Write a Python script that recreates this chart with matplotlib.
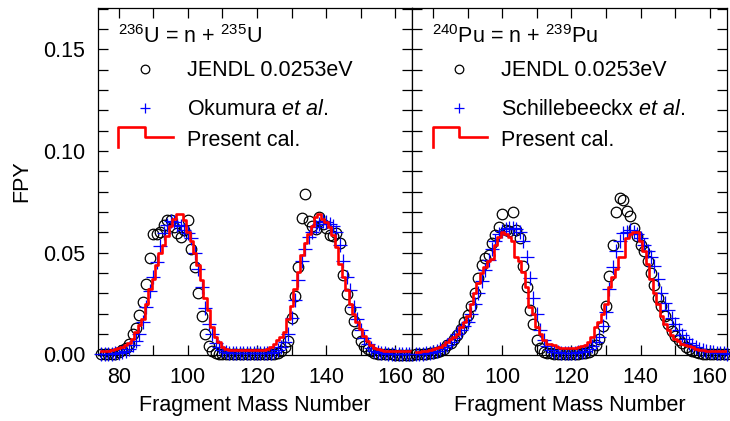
import matplotlib
matplotlib.use("Agg")
import matplotlib.pyplot as plt
from matplotlib.ticker import MultipleLocator, FormatStrFormatter

plt.rcParams['font.family'] = ['Liberation Sans', 'DejaVu Sans']
plt.rcParams['mathtext.fontset'] = 'custom'
plt.rcParams['mathtext.rm'] = 'Liberation Sans'
plt.rcParams['mathtext.it'] = 'Liberation Sans:italic'

# ---------------- data ----------------
mass = list(range(75, 166))

u235_jendl = [
    0.00001, 0.00003, 0.00008, 0.0002, 0.00045, 0.0013, 0.0020, 0.0033, 0.0054, 0.0100,   # 75-84
    0.0132, 0.0196, 0.0256, 0.0345, 0.0473, 0.0590, 0.0591, 0.0600, 0.0637, 0.0660,       # 85-94
    0.0660, 0.0628, 0.0599, 0.0578, 0.0611, 0.0660, 0.0518, 0.0429, 0.0303, 0.0188,       # 95-104
    0.0100, 0.0042, 0.0015, 0.00054, 0.00031, 0.00025, 0.00017, 0.00013, 0.00014, 0.00012, # 105-114
    0.00010, 0.00011, 0.00011, 0.00011, 0.00011, 0.00013, 0.00013, 0.00016, 0.00016, 0.00027, # 115-124
    0.00034, 0.00059, 0.0016, 0.0035, 0.0066, 0.0180, 0.0289, 0.0431, 0.0670, 0.0787,     # 125-134
    0.0654, 0.0631, 0.0619, 0.0677, 0.0641, 0.0622, 0.0585, 0.0584, 0.0596, 0.0550,       # 135-144
    0.0393, 0.0299, 0.0225, 0.0167, 0.0108, 0.0065, 0.0042, 0.0027, 0.0016, 0.00074,      # 145-154
    0.00032, 0.00013, 0.00006, 0.00003, 0.00001, 0.0, 0.0, 0.0, 0.0, 0.0, 0.0,            # 155-165
]

u235_okumura = [
    0.0001, 0.0001, 0.0002, 0.0003, 0.0005, 0.0008, 0.0012, 0.0018, 0.0028, 0.0045,       # 75-84
    0.0068, 0.0100, 0.0160, 0.0235, 0.0310, 0.0380, 0.0455, 0.0535, 0.0595, 0.0635,       # 85-94
    0.0655, 0.0650, 0.0635, 0.0630, 0.0610, 0.0595, 0.0570, 0.0500, 0.0420, 0.0330,       # 95-104
    0.0230, 0.0150, 0.0100, 0.0055, 0.0035, 0.0020, 0.0012, 0.0008, 0.0006, 0.0005,       # 105-114
    0.0005, 0.0005, 0.0005, 0.0005, 0.0005, 0.0005, 0.0005, 0.0005, 0.0006, 0.0008,       # 115-124
    0.0012, 0.0020, 0.0035, 0.0060, 0.0100, 0.0180, 0.0270, 0.0364, 0.0460, 0.0520,       # 125-134
    0.0575, 0.0600, 0.0625, 0.0640, 0.0658, 0.0650, 0.0640, 0.0630, 0.0600, 0.0536,       # 135-144
    0.0460, 0.0380, 0.0315, 0.0233, 0.0176, 0.0119, 0.0080, 0.0050, 0.0030, 0.0018,       # 145-154
    0.0011, 0.0007, 0.0005, 0.0003, 0.0003, 0.0002, 0.0002, 0.0002, 0.0001, 0.0001, 0.0001, # 155-165
]

u235_present = [
    0.0015, 0.0016, 0.0018, 0.0020, 0.0025, 0.0030, 0.0035, 0.0045, 0.0055, 0.0075,       # 75-84
    0.0110, 0.0144, 0.0176, 0.0250, 0.0320, 0.0370, 0.0440, 0.0500, 0.0540, 0.0580,       # 85-94
    0.0630, 0.0667, 0.0690, 0.0690, 0.0660, 0.0600, 0.0560, 0.0500, 0.0440, 0.0364,       # 95-104
    0.0280, 0.0217, 0.0135, 0.0086, 0.0060, 0.0035, 0.0025, 0.0020, 0.0020, 0.0020,       # 105-114
    0.0020, 0.0020, 0.0020, 0.0020, 0.0020, 0.0020, 0.0020, 0.0020, 0.0028, 0.0037,       # 115-124
    0.0054, 0.0070, 0.0086, 0.0110, 0.0176, 0.0240, 0.0320, 0.0405, 0.0487, 0.0550,       # 125-134
    0.0593, 0.0630, 0.0675, 0.0690, 0.0667, 0.0650, 0.0626, 0.0585, 0.0527, 0.0446,       # 135-144
    0.0380, 0.0315, 0.0250, 0.0200, 0.0160, 0.0125, 0.0090, 0.0065, 0.0045, 0.0032,       # 145-154
    0.0025, 0.0020, 0.0017, 0.0017, 0.0017, 0.0017, 0.0017, 0.0017, 0.0017, 0.0017, 0.0017, # 155-165
]

pu239_jendl = [
    0.0001, 0.00015, 0.0002, 0.0004, 0.0006, 0.0008, 0.0012, 0.0017, 0.0029, 0.0045,      # 75-84
    0.0057, 0.0076, 0.0095, 0.0125, 0.0160, 0.0195, 0.0240, 0.0300, 0.0375, 0.0440,       # 85-94
    0.0475, 0.0490, 0.0550, 0.0585, 0.0625, 0.0688, 0.0610, 0.0605, 0.0700, 0.0610,       # 95-104
    0.0570, 0.0435, 0.0330, 0.0217, 0.0150, 0.0070, 0.0030, 0.0013, 0.0008, 0.0006,       # 105-114
    0.00045, 0.0004, 0.0004, 0.0004, 0.0004, 0.0004, 0.0004, 0.0004, 0.0005, 0.0007,      # 115-124
    0.0011, 0.0024, 0.0049, 0.0075, 0.0141, 0.0237, 0.0384, 0.0540, 0.0700, 0.0768,       # 125-134
    0.0760, 0.0705, 0.0680, 0.0620, 0.0580, 0.0540, 0.0510, 0.0460, 0.0400, 0.0340,       # 135-144
    0.0280, 0.0240, 0.0190, 0.0150, 0.0115, 0.0090, 0.0072, 0.0055, 0.0037, 0.0026,       # 145-154
    0.0017, 0.0012, 0.0007, 0.0004, 0.0002, 0.0001, 0.00005, 0.00005, 0.00005, 0.00005, 0.00005, # 155-165
]

pu239_schillebeeckx = [
    0.0002, 0.0003, 0.0004, 0.0006, 0.0008, 0.0012, 0.0018, 0.0025, 0.0035, 0.0045,       # 75-84
    0.0060, 0.0080, 0.0100, 0.0120, 0.0140, 0.0160, 0.0200, 0.0250, 0.0300, 0.0360,       # 85-94
    0.0415, 0.0465, 0.0520, 0.0560, 0.0590, 0.0605, 0.0615, 0.0620, 0.0620, 0.0615,       # 95-104
    0.0600, 0.0560, 0.0480, 0.0377, 0.0280, 0.0200, 0.0120, 0.0070, 0.0040, 0.0022,       # 105-114
    0.0014, 0.0010, 0.0008, 0.0008, 0.0008, 0.0008, 0.0008, 0.0010, 0.0013, 0.0018,       # 115-124
    0.0025, 0.0040, 0.0060, 0.0085, 0.0140, 0.0210, 0.0320, 0.0430, 0.0510, 0.0560,       # 125-134
    0.0595, 0.0600, 0.0610, 0.0600, 0.0590, 0.0570, 0.0540, 0.0510, 0.0480, 0.0435,       # 135-144
    0.0370, 0.0300, 0.0255, 0.0220, 0.0180, 0.0150, 0.0120, 0.0095, 0.0075, 0.0058,       # 145-154
    0.0045, 0.0035, 0.0028, 0.0022, 0.0018, 0.0014, 0.0011, 0.0009, 0.0007, 0.0005, 0.0004, # 155-165
]

pu239_present = [
    0.0010, 0.0012, 0.0015, 0.0018, 0.0022, 0.0026, 0.0030, 0.0037, 0.0048, 0.0060,       # 75-84
    0.0075, 0.0086, 0.0103, 0.0135, 0.0160, 0.0190, 0.0250, 0.0300, 0.0350, 0.0400,       # 85-94
    0.0430, 0.0460, 0.0470, 0.0540, 0.0577, 0.0600, 0.0590, 0.0577, 0.0560, 0.0480,       # 95-104
    0.0460, 0.0405, 0.0330, 0.0233, 0.0200, 0.0135, 0.0103, 0.0070, 0.0054, 0.0050,       # 105-114
    0.0045, 0.0038, 0.0032, 0.0030, 0.0030, 0.0030, 0.0032, 0.0036, 0.0042, 0.0048,       # 115-124
    0.0060, 0.0086, 0.0135, 0.0160, 0.0200, 0.0250, 0.0330, 0.0380, 0.0420, 0.0480,       # 125-134
    0.0480, 0.0570, 0.0593, 0.0600, 0.0600, 0.0560, 0.0510, 0.0446, 0.0370, 0.0300,       # 135-144
    0.0250, 0.0190, 0.0152, 0.0119, 0.0095, 0.0075, 0.0065, 0.0050, 0.0046, 0.0040,       # 145-154
    0.0035, 0.0028, 0.0024, 0.0020, 0.0018, 0.0016, 0.0015, 0.0015, 0.0015, 0.0015, 0.0015, # 155-165
]

panels = [
    (r'$^{236}$U = n + $^{235}$U', u235_jendl, u235_okumura, r'Okumura $\mathit{et\ al.}$', u235_present),
    (r'$^{240}$Pu = n + $^{239}$Pu', pu239_jendl, pu239_schillebeeckx, r'Schillebeeckx $\mathit{et\ al.}$', pu239_present),
]

xticks = [80, 100, 120, 140, 160]
yticks = [0.00, 0.05, 0.10, 0.15]

# ---------------- figure ----------------
W, H = 730, 421
fig = plt.figure(figsize=(W / 100, H / 100), dpi=100)
fs = 15.5
ax_l, ax_b, ax_w, ax_h = 98 / W, 1 - 354.5 / H, 314.5 / W, 347 / H
axes = [fig.add_axes([ax_l, ax_b, ax_w, ax_h]),
        fig.add_axes([ax_l + ax_w, ax_b, ax_w, ax_h])]

for i, (ax, (title, jendl, exp, exp_label, present)) in enumerate(zip(axes, panels)):
    ax.plot(mass, jendl, linestyle='none', marker='o', markersize=7.6,
            markerfacecolor='none', markeredgecolor='black', markeredgewidth=0.9,
            clip_on=False, zorder=2)
    ax.plot(mass, exp, linestyle='none', marker='+', markersize=9.5,
            color='#0000ff', markeredgewidth=0.9, clip_on=False, zorder=3)
    ax.step(mass, present, where='mid', color='#ff0000', linewidth=1.9, zorder=4)

    ax.set_xlim(74, 165)
    ax.set_ylim(0, 0.1705)
    ax.set_xticks(xticks)
    ax.xaxis.set_minor_locator(MultipleLocator(10))
    ax.set_yticks(yticks)
    ax.yaxis.set_minor_locator(MultipleLocator(0.01))
    ax.yaxis.set_major_formatter(FormatStrFormatter('%.2f'))
    ax.tick_params(which='both', direction='in', top=True, right=True,
                   length=7, width=0.9, labelsize=fs, pad=9)
    for sp in ax.spines.values():
        sp.set_linewidth(0.9)
    if i == 1:
        ax.tick_params(labelleft=False)
    else:
        ax.set_ylabel('FPY', fontsize=fs, labelpad=8)
    ax.set_xlabel('Fragment Mass Number', fontsize=fs, labelpad=5)

    # legend block (decoration, in axes coordinates)
    T = ax.transAxes
    ax.text(20 / 314.5, (354.5 - 43) / 347, title, transform=T, fontsize=fs,
            va='baseline', ha='left')
    ax.plot([47 / 314.5], [(354.5 - 69) / 347], transform=T, marker='o',
            markersize=6.2, markerfacecolor='none', markeredgecolor='black',
            markeredgewidth=0.9, linestyle='none', clip_on=False)
    ax.text(89 / 314.5, (354.5 - 76) / 347, 'JENDL 0.0253eV', transform=T,
            fontsize=fs, va='baseline', ha='left')
    ax.plot([47 / 314.5], [(354.5 - 108) / 347], transform=T, marker='+',
            markersize=7.5, color='#0000ff', markeredgewidth=0.9,
            linestyle='none', clip_on=False)
    ax.text(89 / 314.5, (354.5 - 115) / 347, exp_label, transform=T,
            fontsize=fs, va='baseline', ha='left')
    sx = [20.3, 20.3, 47, 47, 74.7]
    sy = [147, 127, 127, 136.7, 136.7]
    ax.plot([v / 314.5 for v in sx], [(354.5 - v) / 347 for v in sy],
            transform=T, color='#ff0000', linewidth=1.9, clip_on=False)
    ax.text(89 / 314.5, (354.5 - 146.5) / 347, 'Present cal.', transform=T,
            fontsize=fs, va='baseline', ha='left')

fig.savefig('out.png', dpi=100)
